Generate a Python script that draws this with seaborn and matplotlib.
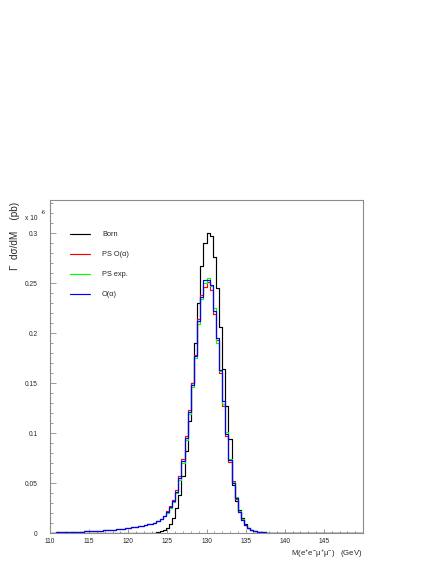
import numpy as np
import pandas as pd
import matplotlib
matplotlib.use("Agg")
import matplotlib.pyplot as plt
from matplotlib.lines import Line2D
from matplotlib.ticker import MultipleLocator, FuncFormatter
import seaborn as sns

# ---------------- data (units of 1e-6 pb per bin, 100 bins 110-150 GeV) ----------------
x_min, x_max, n_bins = 110.0, 150.0, 100

born = [0.0] * 34 + [
    0.001, 0.002, 0.003, 0.005, 0.009, 0.015, 0.025, 0.038, 0.057, 0.082,   # 34-43
    0.112, 0.150, 0.190, 0.230, 0.267, 0.290, 0.300, 0.297, 0.276, 0.245,   # 44-53
    0.206, 0.164, 0.127, 0.094, 0.048, 0.032, 0.023, 0.015, 0.009, 0.0055,  # 54-63
    0.0035, 0.002, 0.0012, 0.0006, 0.0003, 0.0001,                          # 64-69
] + [0.0] * 30

tail = [
    0.0004, 0.0005, 0.0006, 0.0007, 0.0008, 0.0009, 0.0010, 0.0011, 0.0012, 0.0013,  # 0-9
    0.0014, 0.0016, 0.0017, 0.0019, 0.0021, 0.0023, 0.0025, 0.0027, 0.0029, 0.0031,  # 10-19
    0.0034, 0.0037, 0.0041, 0.0045, 0.0049, 0.0053, 0.0057, 0.0061, 0.0066, 0.0072,  # 20-29
    0.0079, 0.0086, 0.0094, 0.0103, 0.0120, 0.0140, 0.0170,                          # 30-36
]
right_tail = [0.0007, 0.0005, 0.0003, 0.0002, 0.0001] + [0.0] * 27                  # 68-99

o_alpha = tail + [
    0.021, 0.026, 0.032, 0.041, 0.055, 0.072, 0.095, 0.121, 0.148, 0.177,   # 37-46
    0.212, 0.236, 0.253, 0.253, 0.248, 0.222, 0.195, 0.163, 0.132, 0.099,   # 47-56
    0.073, 0.050, 0.035, 0.021, 0.013, 0.008, 0.005, 0.003, 0.002, 0.0015,  # 57-66
    0.001,                                                                  # 67
] + right_tail

ps_o_alpha = tail + [
    0.022, 0.027, 0.033, 0.043, 0.057, 0.074, 0.097, 0.123, 0.150, 0.178,
    0.214, 0.238, 0.246, 0.251, 0.243, 0.219, 0.193, 0.160, 0.127, 0.097,
    0.071, 0.052, 0.034, 0.021, 0.013, 0.008, 0.005, 0.003, 0.002, 0.0015,
    0.001,
] + right_tail

ps_exp = tail + [
    0.020, 0.025, 0.031, 0.040, 0.053, 0.070, 0.093, 0.119, 0.146, 0.175,
    0.209, 0.234, 0.250, 0.255, 0.247, 0.225, 0.190, 0.162, 0.129, 0.101,
    0.074, 0.051, 0.036, 0.022, 0.014, 0.008, 0.005, 0.003, 0.002, 0.0015,
    0.001,
] + right_tail

series_names = ["Born", "PS O(\u03b1)", "PS exp.", "O(\u03b1)"]
series_vals = [born, ps_o_alpha, ps_exp, o_alpha]
series_colors = ["#000000", "#ff0000", "#00ff00", "#0000ff"]

x_ticks_major = [110, 115, 120, 125, 130, 135, 140, 145]
y_ticks_major = [0, 0.05, 0.1, 0.15, 0.2, 0.25, 0.3]

# ---------------- figure ----------------
sns.set_style("white")
plt.rcParams["font.family"] = ["Liberation Sans", "DejaVu Sans"]
plt.rcParams["mathtext.fontset"] = "custom"
plt.rcParams["mathtext.rm"] = "Liberation Sans"
plt.rcParams["mathtext.it"] = "Liberation Sans"

W, H = 436, 564
fig = plt.figure(figsize=(W / 100, H / 100), dpi=100)
fig.patch.set_facecolor("white")
ax = fig.add_axes([50 / W, 31 / H, 313 / W, 333 / H])

edges = np.linspace(x_min, x_max, n_bins + 1)

for name, vals, col in zip(series_names, series_vals, series_colors):
    yv = list(vals) + [vals[-1]]
    df = pd.DataFrame({"m": edges, "v": yv})
    sns.lineplot(data=df, x="m", y="v", drawstyle="steps-post", estimator=None,
                 sort=False, color=col, linewidth=0.85, ax=ax)

ax.set_xlim(x_min, x_max)
ax.set_ylim(0, 0.333)
ax.set_xlabel("")
ax.set_ylabel("")

frame_col = "#8c8c8c"
for s in ax.spines.values():
    s.set_color(frame_col)
    s.set_linewidth(0.8)

ax.set_xticks(x_ticks_major)
ax.set_yticks(y_ticks_major)
ax.xaxis.set_minor_locator(MultipleLocator(1))
ax.yaxis.set_minor_locator(MultipleLocator(0.01))
ax.yaxis.set_major_formatter(FuncFormatter(lambda v, p: "%g" % round(v, 3)))
ax.xaxis.set_major_formatter(FuncFormatter(lambda v, p: "%d" % v))

ax.tick_params(axis="x", which="major", direction="in", length=3.0, width=0.6,
               color=frame_col, labelsize=4.8, pad=3.5, top=False, bottom=True)
ax.tick_params(axis="x", which="minor", direction="in", length=1.6, width=0.6,
               color=frame_col, top=False, bottom=True)
ax.tick_params(axis="y", which="major", direction="in", length=4.0, width=0.6,
               color=frame_col, labelsize=4.8, pad=9.0, left=True, right=False)
ax.tick_params(axis="y", which="minor", direction="in", length=2.3, width=0.6,
               color=frame_col, left=True, right=False)

# axis titles
fig.text(363 / W, 1 - 554 / H, "M(e$^{+}$e$^{-}$\u03bc$^{+}$\u03bc$^{-}$)   (GeV)",
         ha="right", va="center", fontsize=5.6)
fig.text(15 / W, 1 - 202 / H, "\u0393  d\u03c3/dM    (pb)", rotation=90,
         ha="center", va="top", fontsize=7.2)
fig.text(25 / W, 1 - 219 / H, "x 10", ha="left", va="center", fontsize=4.8)
fig.text(41 / W, 1 - 212 / H, "-6", ha="left", va="center", fontsize=4.0)

# legend
leg_y = [234, 254, 274, 294]
for name, col, yy in zip(series_names, series_colors, leg_y):
    fig.add_artist(Line2D([70 / W, 90 / W], [1 - yy / H, 1 - yy / H], color=col, linewidth=0.85))
    fig.text(102 / W, 1 - yy / H, name, ha="left", va="center", fontsize=5.3)

fig.savefig("out.png", dpi=100, facecolor="white")
